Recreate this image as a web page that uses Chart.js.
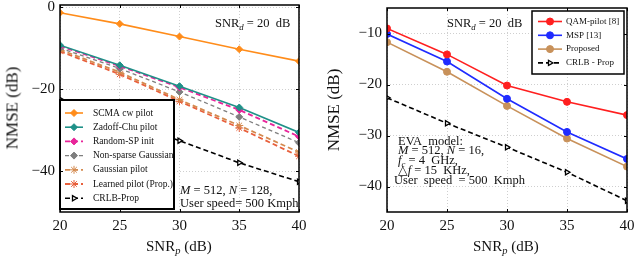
<!DOCTYPE html>
<html>
<head>
<meta charset="utf-8">
<script src="https://cdn.jsdelivr.net/npm/chart.js@4.4.1/dist/chart.umd.min.js"></script>
<style>
  body { margin: 0; background: #fff; }
  #wrap { position: relative; width: 640px; height: 258px; overflow: hidden; font-family: "Liberation Serif", "DejaVu Serif", serif; color: #111; }
  canvas { position: absolute; top: -12px; }
  .txt { position: absolute; white-space: nowrap; line-height: 1; }
  .ax { font-size: 15px; }
  .ay { font-size: 17px; }
  .note { font-size: 12.5px; }
  .rot { transform: translate(-50%, -50%) rotate(-90deg); }
  sub { font-size: 70%; vertical-align: -3px; line-height: 0; }
</style>
</head>
<body>
<div id="wrap">
  <canvas id="leftChart" width="320" height="270" style="left:0"></canvas>
  <canvas id="rightChart" width="320" height="270" style="left:320px"></canvas>

  <div class="txt ay rot" style="left:12px; top:108px;">NMSE (dB)</div>
  <div class="txt ax" style="left:146px; top:239px;">SNR<sub><i>p</i></sub> (dB)</div>
  <div class="txt ay rot" style="left:333px; top:110px;">NMSE (dB)</div>
  <div class="txt ax" style="left:473px; top:239px;">SNR<sub><i>p</i></sub> (dB)</div>

  <div class="txt note" style="left:215px; top:17px;">SNR<sub><i>d</i></sub> = 20&nbsp; dB</div>
  <div class="txt note" style="left:180px; top:184px;"><i>M</i> = 512, <i>N</i> = 128,</div>
  <div class="txt note" style="left:180px; top:197px;">User speed= 500 Kmph</div>

  <div class="txt note" style="left:447px; top:17px;">SNR<sub><i>d</i></sub> = 20&nbsp; dB</div>
  <div class="txt note" style="left:398px; top:135px;">EVA&nbsp; model:</div>
  <div class="txt note" style="left:398px; top:144px;"><i>M</i> = 512, <i>N</i> = 16,</div>
  <div class="txt note" style="left:398px; top:154px;"><i>f<sub>c</sub></i> = 4&nbsp; GHz,</div>
  <div class="txt note" style="left:398px; top:164px;">△<i>f</i> = 15&nbsp; KHz,</div>
  <div class="txt note" style="left:394px; top:174px;">User&nbsp; speed&nbsp; = 500&nbsp; Kmph</div>
</div>

<script>
// x values (pilot SNR, dB)
const snrP = [20, 25, 30, 35, 40];
const xTicks = [20, 25, 30, 35, 40];

// left panel
const scmaCw = [-1.4, -4.1, -7.2, -10.3, -13.2];
const zadoffChu = [-9.3, -14.2, -19.3, -24.5, -30.6];
const randomSp = [-9.5, -14.4, -19.6, -25.1, -31.6];
const nonSparse = [-10.0, -15.0, -20.7, -26.8, -33.1];
const gaussianPilot = [-10.4, -15.9, -22.6, -28.9, -35.4];
const learnedPilot = [-10.8, -16.4, -23.0, -29.5, -36.4];
const crlbLeft = [-22.5, -27.6, -32.6, -38.0, -42.6];
const leftYTicks = [-40, -20, 0];

// right panel
const qamPilot = [-9.0, -14.1, -20.2, -23.4, -26.0];
const msp = [-10.1, -15.5, -22.8, -29.3, -34.6];
const proposed = [-11.7, -17.5, -24.2, -30.6, -36.1];
const crlbRight = [-22.6, -27.6, -32.3, -37.2, -42.8];
const rightYTicks = [-40, -30, -20, -10];

const serif = '"Liberation Serif", "DejaVu Serif", serif';

const series = (label, data, color, opts = {}) => ({
    label: label,
    data: data.map((y, i) => ({ x: snrP[i], y: y })),
    borderColor: color,
    backgroundColor: opts.hollow ? 'rgba(0,0,0,0)' : color,
    pointBackgroundColor: opts.hollow ? '#fff' : color,
    pointBorderColor: color,
    borderWidth: opts.width || 1.6,
    borderDash: opts.dash || [],
    pointStyle: opts.marker || 'circle',
    pointRotation: opts.rotation || 0,
    pointRadius: opts.radius || 3,
    pointBorderWidth: opts.hollow ? 1.3 : 1,
    tension: 0,
});

// frame with inner tick marks, like pgfplots
const framePlugin = {
    id: 'frame',
    afterDraw(chart) {
        const { ctx, chartArea: a, scales } = chart;
        ctx.save();
        ctx.strokeStyle = '#000';
        ctx.lineWidth = 1;
        scales.x.ticks.forEach(t => {
            const px = Math.round(scales.x.getPixelForValue(t.value)) + 0.5;
            ctx.beginPath();
            ctx.moveTo(px, a.top); ctx.lineTo(px, a.top + 3);
            ctx.moveTo(px, a.bottom); ctx.lineTo(px, a.bottom - 3);
            ctx.stroke();
        });
        scales.y.ticks.forEach(t => {
            const py = Math.round(scales.y.getPixelForValue(t.value)) + 0.5;
            ctx.beginPath();
            ctx.moveTo(a.left, py); ctx.lineTo(a.left + 3, py);
            ctx.moveTo(a.right, py); ctx.lineTo(a.right - 3, py);
            ctx.stroke();
        });
        ctx.lineWidth = 1.5;
        ctx.strokeRect(a.left, a.top, a.right - a.left, a.bottom - a.top);
        ctx.restore();
    }
};

// boxed legend inside the plot area
const boxLegendPlugin = {
    id: 'boxLegend',
    afterDatasetsDraw(chart, args, o) {
        if (!o || !o.w) return;
        const ctx = chart.ctx;
        ctx.save();
        ctx.fillStyle = '#fff';
        ctx.fillRect(o.x, o.y, o.w, o.h);
        ctx.strokeStyle = '#000';
        ctx.lineWidth = o.border;
        ctx.strokeRect(o.x, o.y, o.w, o.h);
        ctx.font = o.font;
        ctx.textBaseline = 'middle';
        chart.data.datasets.forEach((ds, i) => {
            const yy = o.y + o.first + i * o.rowH;
            const x0 = o.x + o.lineX, x1 = x0 + o.lineLen;
            ctx.strokeStyle = ds.borderColor;
            ctx.lineWidth = ds.borderWidth;
            ctx.setLineDash(ds.borderDash || []);
            ctx.beginPath();
            ctx.moveTo(x0, yy); ctx.lineTo(x1, yy);
            ctx.stroke();
            ctx.setLineDash([]);
            ctx.fillStyle = ds.pointBackgroundColor;
            ctx.strokeStyle = ds.pointBorderColor;
            ctx.lineWidth = ds.pointBorderWidth;
            Chart.helpers.drawPoint(ctx, {
                pointStyle: ds.pointStyle, radius: ds.pointRadius,
                rotation: ds.pointRotation, borderWidth: ds.pointBorderWidth
            }, (x0 + x1) / 2, yy);
            ctx.fillStyle = '#111';
            ctx.fillText(ds.label, o.x + o.textX, yy);
        });
        ctx.restore();
    }
};

const minus = v => String(v).replace('-', '\u2212');

const makeOptions = (yMin, yMax, yTicks, yWidth, pad, legend) => ({
    responsive: false,
    animation: false,
    layout: { padding: pad },
    plugins: { legend: { display: false }, tooltip: { enabled: false }, boxLegend: legend },
    scales: {
        x: {
            type: 'linear', min: 20, max: 40,
            afterBuildTicks: s => { s.ticks = xTicks.map(v => ({ value: v })); },
            afterFit: s => { s.height = 46; },
            grid: { color: '#cfcfcf', drawTicks: false },
            border: { display: false, dash: [1, 2] },
            ticks: { color: '#111', padding: 5, font: { family: serif, size: 15 }, maxRotation: 0 }
        },
        y: {
            type: 'linear', min: yMin, max: yMax,
            afterBuildTicks: s => { s.ticks = yTicks.map(v => ({ value: v })); },
            afterFit: s => { s.width = yWidth; },
            grid: { color: '#cfcfcf', drawTicks: false },
            border: { display: false, dash: [1, 2] },
            ticks: { color: '#111', padding: 5, font: { family: serif, size: 15 }, callback: v => minus(v) }
        }
    }
});

// canvas is shifted up 12px, so the legend boxes are given in canvas coords
new Chart(document.getElementById('leftChart'), {
    type: 'line',
    data: {
        datasets: [
            series('SCMA cw pilot', scmaCw, '#ff8c1a', { marker: 'rectRot', radius: 3.5 }),
            series('Zadoff-Chu pilot', zadoffChu, '#1f9188', { marker: 'rectRot', radius: 3.5 }),
            series('Random-SP init', randomSp, '#e8259a', { marker: 'rectRot', radius: 3.5, dash: [5, 3], width: 1.8 }),
            series('Non-sparse Gaussian', nonSparse, '#7f7f7f', { marker: 'rectRot', radius: 3.5, dash: [4, 3], width: 1.3 }),
            series('Gaussian pilot', gaussianPilot, '#d48a4f', { marker: 'star', radius: 4, dash: [5, 3], width: 1.8 }),
            series('Learned pilot (Prop.)', learnedPilot, '#e8603c', { marker: 'star', radius: 4, dash: [5, 3], width: 1.8 }),
            series('CRLB-Prop', crlbLeft, '#000', { marker: 'triangle', rotation: 90, radius: 3, hollow: true, dash: [5, 3], width: 1.6 })
        ]
    },
    options: makeOptions(-50, 0.5, leftYTicks, 60, { left: 0, top: 17, right: 21, bottom: 0 },
        { x: 60, y: 112, w: 114, h: 109, border: 2, first: 13, rowH: 14.2, lineX: 5, lineLen: 18, textX: 33, font: '9.5px ' + serif }),
    plugins: [framePlugin, boxLegendPlugin]
});

new Chart(document.getElementById('rightChart'), {
    type: 'line',
    data: {
        datasets: [
            series('QAM-pilot [8]', qamPilot, '#ff1f1f', { radius: 3.5, width: 1.6 }),
            series('MSP [13]', msp, '#1f2bff', { radius: 3.5, width: 1.6 }),
            series('Proposed', proposed, '#c8915a', { radius: 3.5, width: 1.6 }),
            series('CRLB - Prop', crlbRight, '#000', { marker: 'triangle', rotation: 90, radius: 3, hollow: true, dash: [5, 3], width: 1.6 })
        ]
    },
    options: makeOptions(-45, -5, rightYTicks, 67, { left: 0, top: 20, right: 13, bottom: 0 },
        { x: 212, y: 23, w: 92, h: 63, border: 1.5, first: 10.5, rowH: 13.8, lineX: 6, lineLen: 24, textX: 34, font: '9px ' + serif }),
    plugins: [framePlugin, boxLegendPlugin]
});
</script>
</body>
</html>
